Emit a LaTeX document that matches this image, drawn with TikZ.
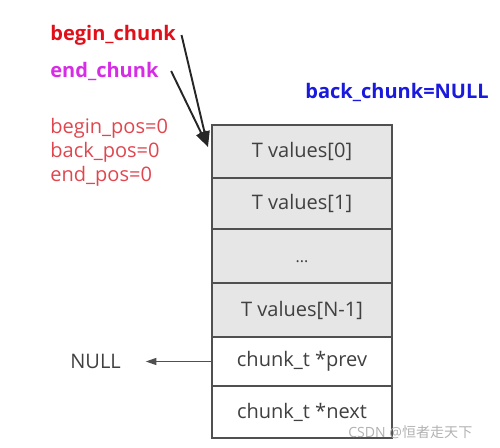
\documentclass[tikz,border=0pt]{standalone}
\usepackage{fontspec}
\setmainfont{Open Sans}
\newfontfamily\cjk{Noto Sans CJK SC}
\usetikzlibrary{arrows.meta}
\definecolor{cellgray}{HTML}{E6E6E6}
\definecolor{linegray}{HTML}{505050}
\definecolor{txtgray}{HTML}{404040}
\definecolor{chunkred}{HTML}{E0101A}
\definecolor{chunkpink}{HTML}{D62CE6}
\definecolor{posred}{HTML}{E0464E}
\definecolor{backblue}{HTML}{1A1ADC}
\newcommand\figsize{\fontsize{11.4}{13.7}\selectfont}
\begin{document}
\begin{tikzpicture}[x=0.02cm,y=-0.02cm,every node/.style={font=\figsize},
  cell/.style={draw=linegray,line width=0.8pt,minimum width=3.6cm,text=txtgray,inner sep=0pt},
  lbl/.style={anchor=west,inner sep=0pt},
  ptr/.style={line width=1.1pt,black!85,-{Triangle[length=9pt,width=6pt]}},
  nullp/.style={line width=0.7pt,linegray,-{Triangle[length=6pt,width=4pt]}}]
\useasboundingbox (0,0) rectangle (500,447);
\node[cell,fill=cellgray,minimum height=1.06cm] (v0) at (302,151.5) {T values[0]};
\node[cell,fill=cellgray,minimum height=1.02cm] (v1) at (302,203.5) {T values[1]};
\node[cell,fill=cellgray,minimum height=1.08cm] (v2) at (302,256) {\raisebox{-1.2ex}{\small...}};
\node[cell,fill=cellgray,minimum height=1.08cm] (v3) at (302,310) {T values[N-1]};
\node[cell,fill=white,minimum height=0.98cm] (prev) at (302,361.5) {chunk\_t *prev};
\node[cell,fill=white,minimum height=1.04cm] (next) at (302,412) {chunk\_t *next};
\node[lbl,text=chunkred,font=\figsize\bfseries] (bc) at (50,35) {begin\_chunk};
\node[lbl,text=chunkpink,font=\figsize\bfseries] (ec) at (50,71) {end\_chunk};
\node[lbl,text=posred] (bp) at (50,128) {begin\_pos=0};
\node[lbl,text=posred] (kp) at (50,152) {back\_pos=0};
\node[lbl,text=posred] (ep) at (50,176) {end\_pos=0};
\node[lbl,text=backblue,font=\figsize\bfseries] (bk) at (305,92) {back\_chunk=NULL};
\node[lbl,text=txtgray] (nl) at (70,361.5) {NULL};
\coordinate (hit) at (208,147);
\draw[ptr] ([xshift=3pt]bc.east) -- (hit);
\draw[ptr] ([xshift=7pt]ec.east) -- (hit);
\draw[nullp] (prev.west) -- ([xshift=14pt]nl.east);
\node[lbl,text=gray!60,font=\footnotesize] (wm) at (348,432) {CSDN @{\cjk 恒者走天下}};
\end{tikzpicture}
\end{document}
